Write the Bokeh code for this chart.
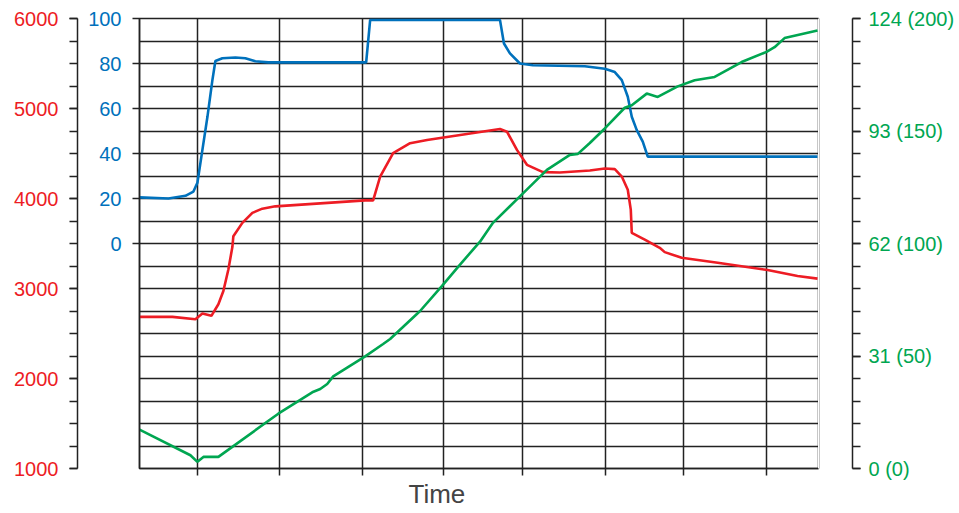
from bokeh.plotting import figure
from bokeh.models import Range1d, LinearAxis, FixedTicker, Title
from bokeh.embed import file_html
from bokeh.resources import INLINE

# ---- data ----
time_ticks = [5.8, 14.0, 22.3, 30.4, 38.4, 46.7, 54.5, 62.8]

red_ticks = [1000, 2000, 3000, 4000, 5000, 6000]
red_minor = [1000 + 250 * i for i in range(21)]
blue_ticks = [0, 20, 40, 60, 80, 100]
green_ticks = [0, 31, 62, 93, 124]
green_labels = ["0 (0)", "31 (50)", "62 (100)", "93 (150)", "124 (200)"]
green_minor = [round(6.2 * i, 2) for i in range(21)]

blue_t = [0.0, 2.9, 4.6, 5.4, 5.8, 6.3, 6.8, 7.3, 7.6, 8.3, 9.6, 10.6, 11.6, 12.9,
          22.6, 22.7, 23.1, 36.1, 36.5, 37.1, 38.1, 39.4, 44.6, 46.6, 47.6, 48.3,
          48.9, 49.3, 49.8, 50.4, 50.9, 67.9]
blue_v = [20.5, 20.0, 21.2, 23.1, 27.0, 41.6, 56.2, 72.6, 81.1, 82.3, 82.7, 82.3,
          81.0, 80.5, 80.5, 80.5, 99.4, 99.4, 88.9, 84.5, 80.0, 79.2, 78.8, 77.7,
          76.2, 72.6, 65.2, 56.3, 50.4, 45.3, 38.6, 38.6]

red_t = [0.0, 3.3, 5.6, 6.3, 7.2, 7.9, 8.4, 8.9, 9.3, 9.4, 10.3, 11.3, 12.3, 13.6,
         22.6, 23.4, 24.1, 25.4, 27.1, 28.8, 36.1, 36.8, 37.8, 38.8, 40.4, 42.1,
         45.1, 46.6, 47.6, 48.3, 48.9, 49.2, 49.3, 50.6, 52.1, 52.6, 54.3, 57.9,
         62.9, 65.9, 67.9]
red_v = [2685, 2685, 2659, 2722, 2696, 2825, 2972, 3212, 3461, 3581, 3729, 3840,
         3887, 3913, 3979, 3979, 4244, 4503, 4614, 4650, 4772, 4742, 4540, 4374,
         4293, 4289, 4311, 4333, 4326, 4244, 4097, 3876, 3618, 3544, 3452, 3404,
         3342, 3286, 3205, 3138, 3110]

green_t = [0.0, 5.1, 5.8, 6.4, 7.9, 13.9, 17.3, 18.1, 18.8, 19.4, 22.6, 24.4, 25.1,
           28.1, 30.3, 32.1, 34.1, 35.4, 38.1, 40.8, 43.1, 43.9, 45.1, 46.6, 48.6,
           49.3, 50.8, 51.9, 53.9, 55.6, 57.6, 60.3, 62.8, 63.6, 64.6, 67.9]
green_v = [10.7, 3.65, 1.84, 3.2, 3.2, 15.1, 21.0, 21.9, 23.3, 25.4, 30.9, 34.3,
           35.7, 43.4, 50.3, 56.2, 62.5, 67.7, 75.0, 82.3, 86.4, 86.7, 89.7, 93.7,
           99.4, 100.1, 103.3, 102.4, 105.3, 107.0, 107.9, 112.0, 114.8, 116.1,
           118.6, 120.7]

RED = "#ED1C24"
BLUE = "#0071BC"
GREEN = "#00A651"
GRIDC = "#222222"
FONT = "Liberation Sans"

p = figure(width=957, height=510, output_backend="svg", toolbar_location=None,
           x_range=Range1d(0, 68), y_range=Range1d(1000, 6000),
           x_axis_location=None, y_axis_location=None,
           min_border_top=18, min_border_left=139, min_border_right=138,
           min_border_bottom=40)
p.extra_y_ranges = {"blue": Range1d(-100, 100), "green": Range1d(0, 124)}
p.outline_line_color = GRIDC
p.outline_line_width = 1.5
p.background_fill_color = "white"
p.border_fill_color = "white"

# grids (the figure's own grids, given fixed tickers)
p.xgrid.ticker = FixedTicker(ticks=time_ticks)
p.ygrid.ticker = FixedTicker(ticks=red_minor)
p.grid.grid_line_color = GRIDC
p.grid.grid_line_width = 1.5
p.grid.grid_line_alpha = 1.0

def style(ax, color):
    ax.axis_line_color = GRIDC
    ax.axis_line_width = 1.5
    ax.major_tick_line_color = GRIDC
    ax.minor_tick_line_color = GRIDC
    ax.major_tick_line_width = 1.5
    ax.minor_tick_line_width = 1.5
    ax.major_tick_in = 0
    ax.minor_tick_in = 0
    ax.major_label_text_color = color
    ax.major_label_text_font = FONT
    ax.major_label_text_font_size = "20px"

def spacer(size, tick, rng="default"):
    # blank axis that only reserves room between the frame and the next axis
    return LinearAxis(y_range_name=rng, ticker=FixedTicker(ticks=[tick]),
                      major_tick_out=size, minor_tick_out=0, major_tick_in=0,
                      minor_tick_in=0, axis_line_color="white",
                      major_tick_line_color="white", minor_tick_line_color="white",
                      major_label_standoff=0, major_label_overrides={tick: ""})

# left axes: blue (inner), spacer, red (outer)
blue_ax = LinearAxis(y_range_name="blue", ticker=FixedTicker(ticks=blue_ticks))
style(blue_ax, BLUE)
blue_ax.major_tick_out = 7
blue_ax.minor_tick_out = 0
blue_ax.major_label_standoff = 11
p.add_layout(blue_ax, "left")

p.add_layout(spacer(8, 3500), "left")

red_ax = LinearAxis(ticker=FixedTicker(ticks=red_ticks, minor_ticks=red_minor))
style(red_ax, RED)
red_ax.major_tick_out = 8
red_ax.minor_tick_out = 8
red_ax.major_label_standoff = 11
p.add_layout(red_ax, "left")

# right axes: spacer, green
p.add_layout(spacer(34, 62, "green"), "right")

green_ax = LinearAxis(y_range_name="green",
                      ticker=FixedTicker(ticks=green_ticks, minor_ticks=green_minor))
style(green_ax, GREEN)
green_ax.major_tick_out = 8
green_ax.minor_tick_out = 8
green_ax.major_label_standoff = 8
green_ax.major_label_overrides = {t: l for t, l in zip(green_ticks, green_labels)}
p.add_layout(green_ax, "right")

# bottom axis
x_ax = LinearAxis(ticker=FixedTicker(ticks=time_ticks))
style(x_ax, GRIDC)
x_ax.major_tick_out = 7
x_ax.minor_tick_out = 0
x_ax.major_label_standoff = 0
x_ax.major_label_overrides = {t: "" for t in time_ticks}
p.add_layout(x_ax, "below")

p.add_layout(Title(text="Time", align="left", offset=269, text_font=FONT,
                   text_font_size="26px", text_font_style="normal",
                   text_color="#444444", standoff=3), "below")

# lines
p.line(red_t, red_v, line_color=RED, line_width=2.6)
p.line(blue_t, blue_v, y_range_name="blue", line_color=BLUE, line_width=2.6)
p.line(green_t, green_v, y_range_name="green", line_color=GREEN, line_width=2.6)

open("out.html", "w").write(file_html(p, INLINE))
